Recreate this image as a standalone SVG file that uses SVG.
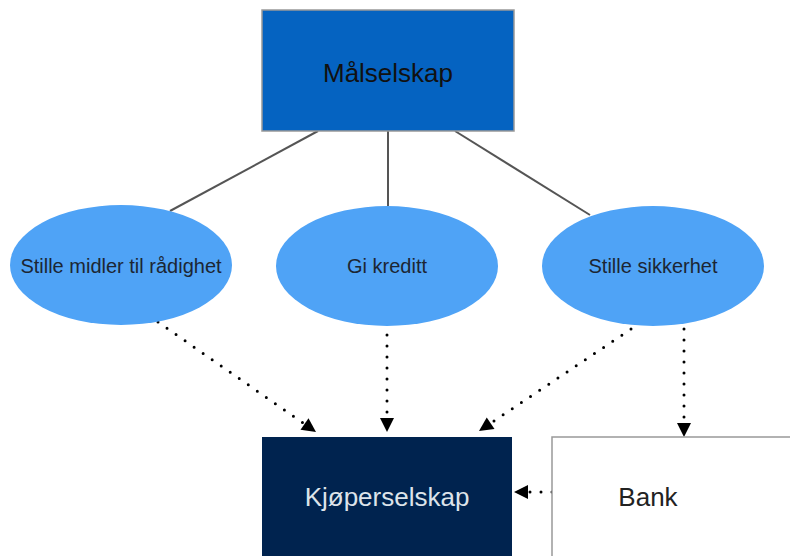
<svg xmlns="http://www.w3.org/2000/svg" width="790" height="556" viewBox="0 0 790 556">
<style>
text{font-family:"Liberation Sans",Arial,sans-serif;text-anchor:middle}
.big{font-size:26px}
.sm{font-size:20px;fill:#1c2633}
.ell{fill:#4fa3f6}
.solid{stroke:#555;stroke-width:2;fill:none}
.dot{stroke:#000;stroke-width:3;stroke-linecap:round;stroke-dasharray:0 11;fill:none;marker-end:url(#ah)}
</style>
<defs>
<marker id="ah" markerUnits="userSpaceOnUse" markerWidth="16" markerHeight="16" viewBox="0 0 16 16" refX="15" refY="8" orient="auto">
<path d="M1,1 L15,8 L1,15 Z" fill="#000"/>
</marker>
</defs>
<rect width="790" height="556" fill="#fff"/>
<g id="connectors">
<line class="solid" x1="318" y1="131" x2="170" y2="211"/>
<line class="solid" x1="388" y1="131" x2="388" y2="206"/>
<line class="solid" x1="455" y1="131" x2="590" y2="215"/>
<line class="dot" x1="158" y1="322" x2="316" y2="432"/>
<line class="dot" x1="387" y1="324" x2="387" y2="432"/>
<line class="dot" x1="631" y1="329" x2="479" y2="431"/>
<line class="dot" x1="684" y1="329" x2="684" y2="437"/>
<line class="dot" x1="552" y1="492" x2="514" y2="492"/>
</g>
<g id="malselskap">
<rect x="262" y="10" width="252" height="121" fill="#0563c1" stroke="#999" stroke-width="1.5"/>
<text class="big" x="388" y="82" fill="#111">Målselskap</text>
</g>
<g id="stille-midler">
<ellipse class="ell" cx="121" cy="265" rx="111" ry="60"/>
<text class="sm" x="121" y="273">Stille midler til rådighet</text>
</g>
<g id="gi-kreditt">
<ellipse class="ell" cx="387" cy="266" rx="111" ry="60"/>
<text class="sm" x="387" y="273">Gi kreditt</text>
</g>
<g id="stille-sikkerhet">
<ellipse class="ell" cx="653" cy="266" rx="111" ry="60"/>
<text class="sm" x="653" y="273">Stille sikkerhet</text>
</g>
<g id="kjoperselskap">
<rect x="262" y="437" width="250" height="125" fill="#00234f"/>
<text class="big" x="387" y="506" fill="#dde3ea">Kjøperselskap</text>
</g>
<g id="bank">
<rect x="552" y="437" width="245" height="125" fill="#fff" stroke="#999" stroke-width="1.5"/>
<text class="big" x="648" y="506" fill="#222">Bank</text>
</g>
</svg>
